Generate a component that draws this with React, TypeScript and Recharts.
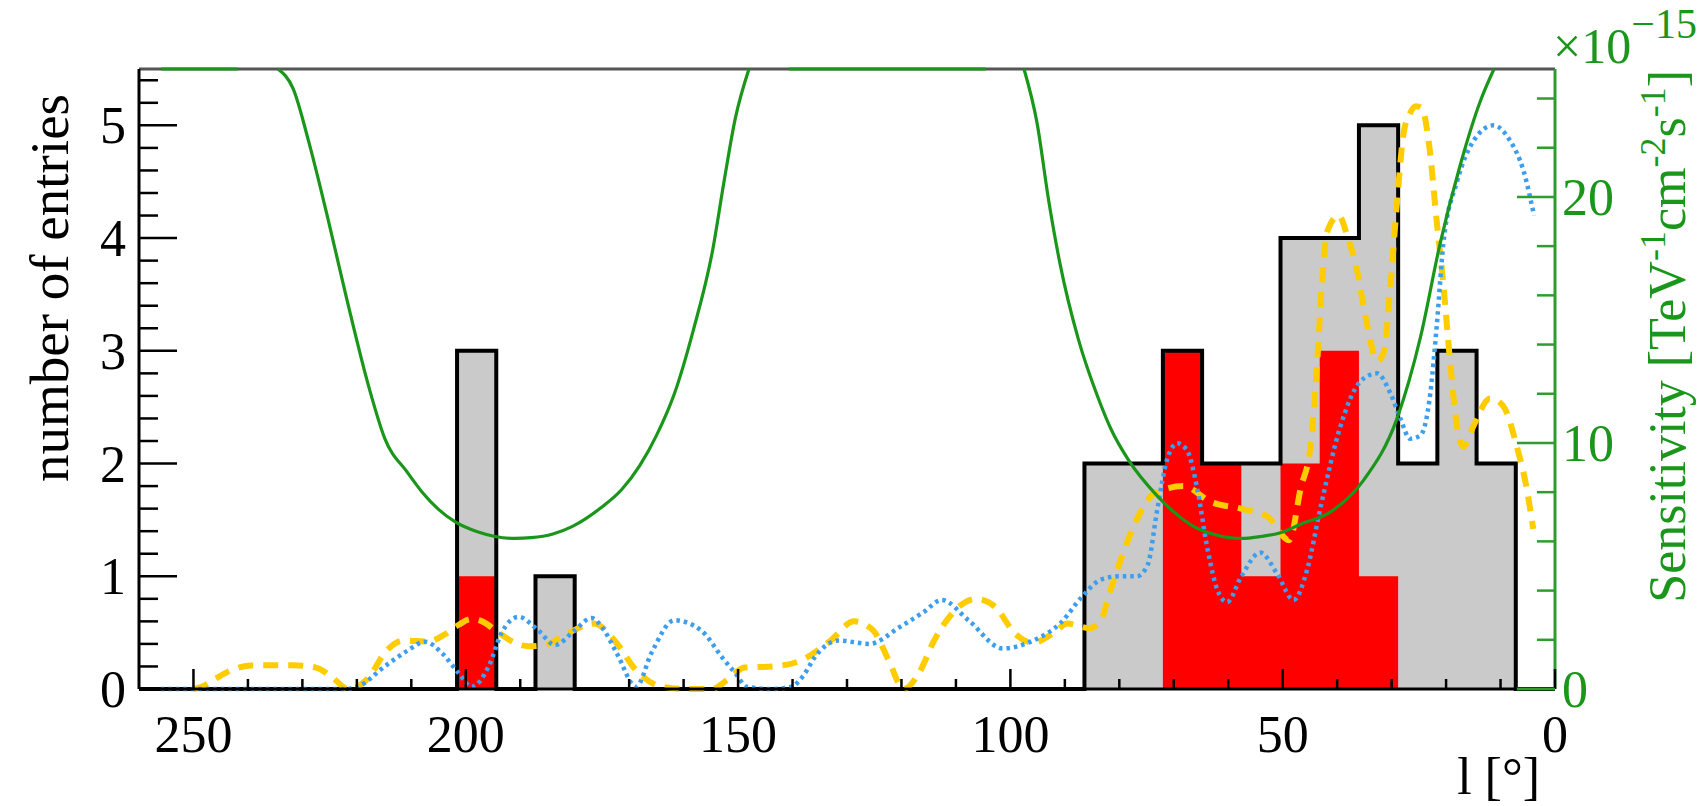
import React from "react";
import { ComposedChart, Area, Line, XAxis, YAxis, ReferenceLine } from "recharts";

const W = 1706;
const H = 806;
const FONT = '"Liberation Serif", "Times New Roman", serif';
const GREEN = "#1a961a";
const GREEN_AXIS = "#2f9c2f";

// histogram: 7.2° bins starting at l = 0 (bin k covers [7.2k, 7.2k + 7.2])
const binWidth = 7.2;
const allCounts = [
  0, 2, 3, 2, 5, 4, 4, 2, 2, 3, 2, 2,
  0, 0, 0, 0, 0, 0, 0, 0, 0, 0, 0, 0, 0,
  1, 0, 3,
  0, 0, 0, 0, 0, 0, 0, 0,
];
const selCounts = [
  0, 0, 0, 0, 1, 3, 2, 1, 2, 3, 0, 0,
  0, 0, 0, 0, 0, 0, 0, 0, 0, 0, 0, 0, 0,
  0, 0, 1,
  0, 0, 0, 0, 0, 0, 0, 0,
];

// [l, entries]
const dashedCurve: [number, number][] = [
  [4.0, 1.42], [5.2, 1.78], [7.0, 2.15], [9.5, 2.51], [11.9, 2.58], [15.0, 2.33],
  [16.8, 2.15], [18.0, 2.33], [19.2, 2.87], [20.5, 3.59], [21.7, 4.14], [23.2, 4.86],
  [24.4, 5.15], [25.5, 5.17], [26.6, 5.11], [27.8, 4.93], [29.0, 4.32], [30.2, 3.59],
  [31.5, 2.98], [32.7, 2.91], [34.5, 3.23], [36.3, 3.7], [38.2, 4.03], [39.7, 4.2],
  [41.8, 4.06], [42.8, 3.59], [43.7, 2.87], [44.9, 2.15], [46.7, 1.78], [48.8, 1.32],
  [52.8, 1.53], [57.7, 1.6], [63.2, 1.66], [68.2, 1.8], [73.7, 1.73], [76.1, 1.57],
  [78.5, 1.31], [81.6, 0.88], [83.5, 0.6], [85.5, 0.54], [89.5, 0.58], [92, 0.5],
  [95.9, 0.41], [99.3, 0.5], [102.8, 0.73], [106.3, 0.8], [111.2, 0.64], [114, 0.43],
  [116.8, 0.14], [119.6, 0.0], [122.4, 0.26], [125.2, 0.52], [128.7, 0.6], [133, 0.43],
  [138.6, 0.25], [143.7, 0.2], [148.8, 0.19], [152, 0.08], [154.8, 0.0], [159, 0.0],
  [163.9, 0.02], [168.8, 0.17], [172.5, 0.42], [176.5, 0.58], [181.1, 0.5], [185.5, 0.39],
  [188.5, 0.38], [191, 0.41], [194, 0.5], [197, 0.6], [199, 0.62], [201.3, 0.57],
  [204, 0.48], [207, 0.42], [211.4, 0.43], [214.9, 0.32], [217.7, 0.11], [221.6, 0.0],
  [224.7, 0.11], [227.5, 0.19], [231.7, 0.21], [238.7, 0.21], [242.9, 0.17], [246, 0.09],
  [248.5, 0.02], [250, 0],
];

const dottedCurve: [number, number][] = [
  [3.85, 4.2], [5.8, 4.6], [8.2, 4.86], [11.3, 5.0], [15, 4.86], [18, 4.5],
  [20.5, 3.95], [21.7, 3.23], [22.9, 2.62], [24.7, 2.25], [26.6, 2.22], [28.4, 2.4],
  [30.2, 2.62], [32.7, 2.8], [35.7, 2.73], [39.4, 2.33], [43.1, 1.6], [45.5, 1.06],
  [48, 0.79], [51, 1.02], [54.1, 1.21], [57.7, 0.99], [60.2, 0.77], [62, 0.88],
  [63.8, 1.24], [65.7, 1.78], [67.5, 2.11], [69.3, 2.18], [71.2, 2.04], [73, 1.6],
  [74.8, 1.1], [76.8, 1.0], [80, 1.0], [83.4, 0.97], [87, 0.81], [90.7, 0.59],
  [95.8, 0.43], [101.4, 0.36], [107.7, 0.61], [112.6, 0.79], [116, 0.68], [120.3, 0.55],
  [125.9, 0.4], [131.5, 0.43], [135.8, 0.29], [138, 0.12], [140.2, 0.02], [144, 0],
  [148.4, 0.02], [150.5, 0.14], [152.6, 0.26], [156.8, 0.52], [161.7, 0.61], [165.9, 0.32],
  [168.7, 0.02], [172.3, 0.32], [175, 0.55], [176.9, 0.63], [180, 0.52], [183.6, 0.39],
  [186.7, 0.52], [190.3, 0.64], [193.4, 0.5], [195.8, 0.2], [198.9, 0.02], [201.3, 0.14],
  [204.4, 0.32], [207.5, 0.42], [210.7, 0.34], [214.9, 0.2], [219.8, 0.02], [222, 0],
  [227.5, 0], [256, 0],
];

// sensitivity [1e-15 TeV^-1 cm^-2 s^-1]; null = off scale, 25.2 = frame top
const sensitivity: [number, number | null][] = [
  [0, 0], [7.2, 0], [9, null],
  [11.2, 25.2], [13.7, 23.9], [17.4, 21.3], [21.1, 18.1], [24.7, 14.3], [29, 11.0],
  [35.1, 8.5], [41.2, 7.2], [46.7, 6.7], [50.4, 6.35], [54, 6.2], [57.7, 6.12],
  [62, 6.25], [66.3, 6.6], [70, 7.2], [73, 7.84], [78.3, 9.3], [81.6, 10.6],
  [84, 11.9], [87.5, 14.2], [90.9, 17.3], [93, 19.9], [95.1, 23.0], [97.5, 25.2],
  [101, null],
  [104.5, 25.2], [140.7, 25.2],
  [144, null],
  [148, 25.2], [150.5, 23.2], [152.6, 20.6], [154.7, 17.8], [158.2, 14.6], [161.7, 12.0],
  [165, 10.3], [168, 9.1], [171.4, 8.1], [175, 7.4], [180.5, 6.6], [184, 6.3],
  [188, 6.15], [191, 6.12], [194.6, 6.2], [198, 6.4], [202, 6.8], [205, 7.3],
  [208, 8.0], [210.7, 8.8], [214.9, 10.2], [217.7, 12.2], [221.9, 15.9], [225.4, 19.2],
  [228.9, 22.3], [231.7, 24.4], [234.5, 25.2],
  [238, null],
  [241.9, 25.2], [255.9, 25.2],
];

const xMajor = [0, 50, 100, 150, 200, 250];
const leftMajor = [0, 1, 2, 3, 4, 5];
const rightMajor = [0, 10, 20];

const xTicks = Array.from({ length: 26 }, (_, i) => i * 10);
const leftTicks = Array.from({ length: 28 }, (_, i) => Math.round(i * 2) / 10);
const rightTicks = Array.from({ length: 13 }, (_, i) => i * 2);

const histRows = allCounts
  .map((c, i) => ({ l: Math.round(i * binWidth * 10) / 10, all: c, sel: selCounts[i] }))
  .concat([{ l: 260, all: 0, sel: 0 }]);

// left-to-right on the reversed axis
const toRows = (pts: [number, number | null][]) => pts.map(([l, v]) => ({ l, v })).reverse();
const dashedRows = toRows(dashedCurve);
const dottedRows = toRows(dottedCurve);
const sensRows = toRows(sensitivity);

const XTick = (props: any) => {
  const { x, y, payload } = props;
  const major = xMajor.includes(payload.value);
  return (
    <g>
      <line x1={x} x2={x} y1={y} y2={y - (major ? 20 : 10)} stroke="#000" strokeWidth={2.5} />
      {major && (
        <text x={x} y={y + 63} textAnchor="middle" fontFamily={FONT} fontSize={52} fill="#000">
          {payload.value}
        </text>
      )}
    </g>
  );
};

const LeftTick = (props: any) => {
  const { x, y, payload } = props;
  const major = leftMajor.includes(payload.value);
  return (
    <g>
      <line x1={x} x2={x + (major ? 38 : 19)} y1={y} y2={y} stroke="#000" strokeWidth={2.5} />
      {major && (
        <text x={x - 13} y={y + 18} textAnchor="end" fontFamily={FONT} fontSize={52} fill="#000">
          {payload.value}
        </text>
      )}
    </g>
  );
};

const RightTick = (props: any) => {
  const { x, y, payload } = props;
  const major = rightMajor.includes(payload.value);
  return (
    <g>
      <line x1={x} x2={x - (major ? 38 : 18)} y1={y} y2={y} stroke={GREEN_AXIS} strokeWidth={2.5} />
      {major && (
        <text x={x + 7} y={y + 18} textAnchor="start" fontFamily={FONT} fontSize={52} fill={GREEN}>
          {payload.value}
        </text>
      )}
    </g>
  );
};

const XTitle = () => (
  <text x={1540} y={794} textAnchor="end" fontFamily={FONT} fontSize={52} fill="#000">
    l [°]
  </text>
);

const LeftTitle = () => (
  <text transform="translate(68,288) rotate(-90)" textAnchor="middle" fontFamily={FONT} fontSize={55} fill="#000">
    number of entries
  </text>
);

const RightTitle = () => (
  <g fill={GREEN} fontFamily={FONT}>
    <text transform="translate(1685,70) rotate(-90)" textAnchor="end" fontSize={52}>
      Sensitivity [TeV
      <tspan dy={-20} fontSize={36}>-1</tspan>
      <tspan dy={20}>cm</tspan>
      <tspan dy={-20} fontSize={36}>-2</tspan>
      <tspan dy={20}>s</tspan>
      <tspan dy={-20} fontSize={36}>-1</tspan>
      <tspan dy={20}>]</tspan>
    </text>
    <text x={1553} y={63} fontSize={50}>
      ×10
      <tspan dy={-25} fontSize={42}>−15</tspan>
    </text>
  </g>
);

export default function App() {
  return (
    <div style={{ width: W, height: H, background: "#fff" }}>
      <style>{"body{margin:0}"}</style>
      <ComposedChart width={W} height={H} data={histRows} margin={{ top: 69, right: 0, bottom: 0, left: 0 }}>
        <XAxis
          type="number"
          dataKey="l"
          domain={[0, 260]}
          reversed
          ticks={xTicks}
          interval={0}
          height={117}
          tickSize={0}
          tickMargin={0}
          tickLine={false}
          axisLine={{ stroke: "#000", strokeWidth: 3 }}
          tick={XTick}
          label={XTitle}
        />
        <YAxis
          yAxisId="left"
          type="number"
          domain={[0, 5.5]}
          ticks={leftTicks}
          interval={0}
          width={139}
          tickSize={0}
          tickMargin={0}
          tickLine={false}
          axisLine={{ stroke: "#000", strokeWidth: 3 }}
          tick={LeftTick}
          label={LeftTitle}
        />
        <YAxis
          yAxisId="right"
          orientation="right"
          type="number"
          domain={[0, 25.2]}
          ticks={rightTicks}
          interval={0}
          width={151}
          tickSize={0}
          tickMargin={0}
          tickLine={false}
          axisLine={{ stroke: GREEN_AXIS, strokeWidth: 3 }}
          tick={RightTick}
          label={RightTitle}
        />
        {/* frame top */}
        <ReferenceLine yAxisId="left" y={5.5} stroke="#555" strokeWidth={3} />
        <Area yAxisId="left" type="stepAfter" dataKey="all" fill="#cacaca" fillOpacity={1} stroke="none" isAnimationActive={false} />
        <Area yAxisId="left" type="stepAfter" dataKey="sel" fill="#ff0000" fillOpacity={1} stroke="none" isAnimationActive={false} />
        <Line
          yAxisId="left"
          type="stepAfter"
          dataKey="all"
          stroke="#000"
          strokeWidth={4}
          strokeLinejoin="miter"
          dot={false}
          activeDot={false}
          isAnimationActive={false}
        />
        <Line
          yAxisId="left"
          data={dashedRows}
          dataKey="v"
          type="monotone"
          stroke="#ffcc00"
          strokeWidth={6}
          strokeDasharray="15 10"
          dot={false}
          activeDot={false}
          isAnimationActive={false}
        />
        <Line
          yAxisId="left"
          data={dottedRows}
          dataKey="v"
          type="monotone"
          stroke="#3c9ef0"
          strokeWidth={4.5}
          strokeDasharray="3.5 4"
          dot={false}
          activeDot={false}
          isAnimationActive={false}
        />
        <Line
          yAxisId="right"
          data={sensRows}
          dataKey="v"
          type="monotone"
          stroke={GREEN}
          strokeWidth={3.2}
          connectNulls={false}
          dot={false}
          activeDot={false}
          isAnimationActive={false}
        />
      </ComposedChart>
    </div>
  );
}
